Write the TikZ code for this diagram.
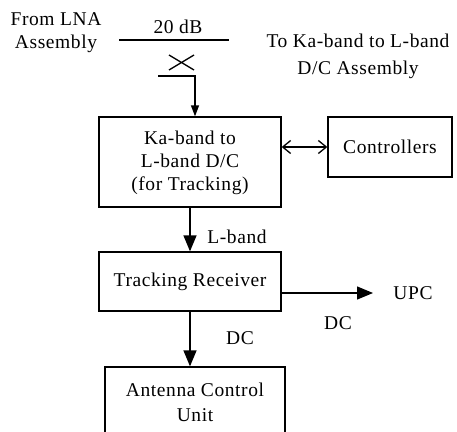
\documentclass[tikz,border=0pt]{standalone}
\usepackage{fontspec}
\setmainfont{Liberation Serif}[LetterSpace=3]
\usepackage{tikz}
\usetikzlibrary{arrows.meta}
\tikzset{
  blk/.style={draw, line width=1.3pt, inner sep=0pt, align=center},
  txt/.style={inner sep=0pt, align=center},
  smallarr/.style={line width=1.3pt, -{Triangle[length=11pt,width=8pt]}},
  bigarr/.style={line width=1.3pt, -{Triangle[length=16pt,width=13pt]}},
  barbarr/.style={line width=1.3pt, {Straight Barb[length=8pt,width=13pt]}-{Straight Barb[length=8pt,width=13pt]}},
}

\begin{document}
\begin{tikzpicture}[x=1pt, y=-1pt, font=\fontsize{19.5}{23}\selectfont]
        \clip (0,0) rectangle (457,431);
        % blocks
        \node (dc) [blk, minimum width=182pt, minimum height=90pt] at (190,162) {};
        \node (ctrl) [blk, minimum width=124pt, minimum height=60pt] at (390,147) {Controllers};
        \node (rx) [blk, minimum width=182pt, minimum height=59pt] at (190,281.5) {Tracking Receiver};
        \node (acu) [blk, minimum width=180pt, minimum height=68pt] at (195,401) {};
        \node (dct) [txt] at (190,163) {Ka-band to\\L-band D/C\\(for Tracking)};
        \node (acut) [txt] at (195,402) {Antenna Control\\[2pt]Unit};
        % coupler
        \coordinate (cin) at (119,40);
        \coordinate (cout) at (229,40);
        \coordinate (tap) at (158,76);
        \draw [line width=1.3pt] (cin) -- (cout);
        \draw [line width=1.3pt] (169,55) -- (194,70) (169,70) -- (194,55);
        \node (lna) [txt] at (56,33) {From LNA\\Assembly};
        \node (att) [txt] at (178,27) {20 dB};
        \node (toka) [txt] at (358,56) {To Ka-band to L-band\\[4pt]D/C Assembly};
        % connectors
        \draw [smallarr] (tap) -| ([xshift=5pt]dc.north);
        \draw [barbarr] (ctrl.west -| dc.east) -- (ctrl.west);
        \draw [bigarr] (dc.south) -- (rx.north);
        \draw [bigarr] (rx.south) -- (rx.south |- acu.north);
        \coordinate (upc) at (373,293);
        \draw [bigarr] (rx.east |- upc) -- (upc);
        % labels
        \node (lb) [txt] at (237,237) {L-band};
        \node (dc1) [txt] at (240,338) {DC};
        \node (dc2) [txt] at (338,323) {DC};
        \node (upct) [txt] at (413,293) {UPC};
\end{tikzpicture}
\end{document}
